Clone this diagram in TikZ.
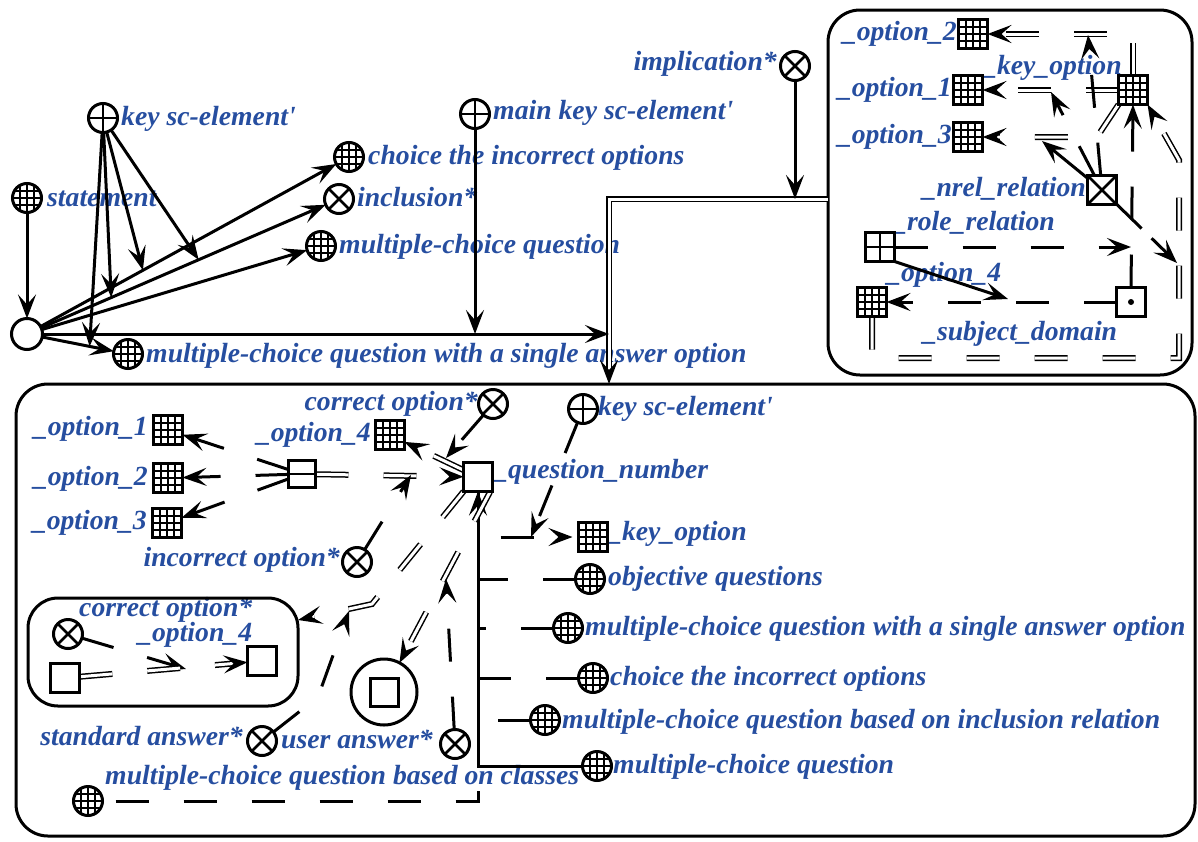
\documentclass[tikz,border=0pt]{standalone}
\usepackage{fontspec}
\setmainfont{Liberation Serif}
\usetikzlibrary{arrows.meta,calc}
\definecolor{lblblue}{RGB}{38,78,160}
\pgfdeclarelayer{bg}
\pgfdeclarelayer{txt}
\pgfdeclarelayer{edges}
\pgfsetlayers{bg,txt,edges,main}

\tikzset{
  lbl/.style={font=\fontsize{27.7pt}{30pt}\selectfont\bfseries\itshape, text=lblblue, inner sep=0pt},
  lblW/.style={lbl, anchor=mid west, yshift=-6pt},
  lblE/.style={lbl, anchor=mid east, yshift=-6pt},
  el/.style={draw, line width=3pt, inner sep=0pt, outer sep=0pt, fill=white},
  crc/.style={el, circle, minimum size=29pt},
  sqr/.style={el, rectangle, minimum size=29pt},
  fine/.style={line width=1.5pt},
  heavy/.style={line width=2.6pt},
  gridmarks/.style={path picture={
    \foreach \d in {-7.2,0,7.2}{
      \draw[fine] ([xshift=\d pt]path picture bounding box.north) -- ([xshift=\d pt]path picture bounding box.south);
      \draw[fine] ([yshift=\d pt]path picture bounding box.west) -- ([yshift=\d pt]path picture bounding box.east);}}},
  crossmarks/.style={path picture={
    \draw[heavy] (path picture bounding box.north west) -- (path picture bounding box.south east);
    \draw[heavy] (path picture bounding box.north east) -- (path picture bounding box.south west);}},
  plusmarks/.style={path picture={
    \draw[heavy] (path picture bounding box.north) -- (path picture bounding box.south);
    \draw[heavy] (path picture bounding box.west) -- (path picture bounding box.east);}},
  gridc/.style={crc, gridmarks},
  gridsq/.style={sqr, gridmarks},
  xc/.style={crc, crossmarks},
  plusc/.style={crc, plusmarks},
  xsq/.style={sqr, crossmarks},
  plussq/.style={sqr, plusmarks},
  tuplesq/.style={sqr, minimum size=27pt, path picture={
    \draw[heavy] (path picture bounding box.west) -- (path picture bounding box.east);}},
  dotsq/.style={sqr, path picture={\fill[black] (path picture bounding box.center) circle (3pt);}},
  framed/.style={el, circle, minimum size=66pt, path picture={
    \draw[line width=3pt] ($(path picture bounding box.center)+(-14,-14)$) rectangle ($(path picture bounding box.center)+(14,14)$);}},
  contour/.style={draw, line width=3pt, rounded corners=32pt, rectangle, inner sep=0pt, outer sep=0pt},
  ln/.style={line width=3pt},
  arr/.style={ln, -{Stealth[length=24pt,width=18pt,inset=10pt]}},
  dsh/.style={dash pattern=on 33pt off 35pt},
  dbl/.style={double, line width=1.5pt, double distance=3pt},
  tiponly/.style={arr, line cap=butt, dash pattern=on 0pt off 10000pt},
}

\begin{document}
\begin{tikzpicture}[x=1pt, y=-1pt]
\useasboundingbox (0,0) rectangle (1198,841);
\begin{pgfonlayer}{bg}
  \fill[white] (0,0) rectangle (1198,841);
\end{pgfonlayer}

% ---------- upper left: statement and question classes
\node[gridc] (stmt) at (27,198) {};
\node[plusc] (ksc1) at (103,118) {};
\node[el, circle, minimum size=31pt] (emp) at (27,334) {};
\node[gridc] (choice1) at (349,157) {};
\node[xc] (incl) at (339,199) {};
\node[gridc] (mcq1) at (321,246) {};
\node[gridc] (mcqs1) at (128,354) {};
\node[plusc] (mksc) at (475,114) {};
\node[xc] (impl) at (795,66) {};

% ---------- upper right frame
\node[gridsq] (opt2a) at (973,34) {};
\node[gridsq] (opt1a) at (968,90) {};
\node[gridsq] (opt3a) at (968,137) {};
\node[gridsq] (keyopt) at (1133,90) {};
\node[xsq] (nrel) at (1102,190) {};
\node[plussq] (role) at (880,247) {};
\node[gridsq] (opt4a) at (872,302) {};
\node[dotsq] (subj) at (1131,302) {};

% ---------- lower frame
\node[sqr] (qn) at (478,477) {};
\node[xc] (corr) at (493,404) {};
\node[plusc] (ksc2) at (583,409) {};
\node[gridsq] (opt4b) at (390,435) {};
\node[tuplesq] (tup) at (302,474) {};
\node[gridsq] (opt1b) at (168,430) {};
\node[gridsq] (opt2b) at (168,478) {};
\node[gridsq] (opt3b) at (167,523) {};
\node[xc] (incor) at (357,562) {};
\node[gridsq] (keyopt2) at (593,537) {};
\node[gridc] (objq) at (590,579) {};
\node[gridc] (mcqs2) at (568,628) {};
\node[gridc] (choice2) at (593,678) {};
\node[gridc] (mcqi) at (545,720) {};
\node[gridc] (mcq2) at (597,766) {};
\node[gridc] (mcqc) at (88,801) {};
\node[xc] (corr2) at (68,634) {};
\node[sqr] (lsq) at (65,678) {};
\node[sqr] (rsq) at (262,661) {};
\node[framed] (cs) at (384,692) {};
\node[xc] (stdans) at (262,741) {};
\node[xc] (usrans) at (455,744) {};

% ---------- labels
\begin{pgfonlayer}{txt}
\node[lblW] (t1) at (47,198) {statement};
\node[lblW] (t2) at (121,117) {key sc-element\textquotesingle};
\node[lblW] (t3) at (368,156) {choice the incorrect options};
\node[lblW] (t4) at (357,198) {inclusion*};
\node[lblW] (t5) at (339,245) {multiple-choice question};
\node[lblW] (t6) at (146,354) {multiple-choice question with a single answer option};
\node[lblW] (t7) at (493,111) {main key sc-element\textquotesingle};
\node[lblE] (t8) at (777,62) {implication*};

\node[lblE] (r1) at (957,32) {\_option\_2};
\node[lblE] (r2) at (952,88) {\_option\_1};
\node[lblE] (r3) at (952,135) {\_option\_3};
\node[lblW] (r4) at (983,66) {\_key\_option};
\node[lblE] (r5) at (1086,188) {\_nrel\_relation};
\node[lblW] (r6) at (893,222) {\_role\_relation};
\node[lblW] (r7) at (887,273) {\_option\_4};
\node[lblW] (r8) at (923,332) {\_subject\_domain};

\node[lblE] (b1) at (478,402) {correct option*};
\node[lblW] (b2) at (598,407) {key sc-element\textquotesingle};
\node[lblW] (b3) at (494,470) {\_question\_number};
\node[lblE] (b4) at (371,433) {\_option\_4};
\node[lblE] (b5) at (148,427) {\_option\_1};
\node[lblE] (b6) at (148,477) {\_option\_2};
\node[lblE] (b7) at (147,521) {\_option\_3};
\node[lblE] (b8) at (340,558) {incorrect option*};
\node[lblW] (b9) at (608,532) {\_key\_option};
\node[lblW] (b10) at (608,577) {objective questions};
\node[lblW] (b11) at (585,627) {multiple-choice question with a single answer option};
\node[lblW] (b12) at (610,677) {choice the incorrect options};
\node[lblW] (b13) at (562,720) {multiple-choice question based on inclusion relation};
\node[lblW] (b14) at (613,765) {multiple-choice question};
\node[lblW] (b15) at (105,776) {multiple-choice question based on classes};
\node[lblW] (b16) at (79,608) {correct option*};
\node[lblW] (b17) at (138,633) {\_option\_4};
\node[lblE] (b18) at (243,737) {standard answer*};
\node[lblW] (b19) at (281,740) {user answer*};
\end{pgfonlayer}

% ---------- frames and connectors
\begin{pgfonlayer}{edges}
\node[contour, minimum width=364pt, minimum height=365pt] (trc) at (1010,192.5) {};
\node[contour, minimum width=1179pt, minimum height=452pt] (btm) at (605.5,610) {};
\node[contour, minimum width=270pt, minimum height=108pt, rounded corners=30pt] (inc) at (163,652) {};

% implication arc from the upper frame into the lower frame
\coordinate (ip) at (795,199);
\coordinate (jn) at (609,334);
\coordinate (j0) at (trc.west |- ip);
\coordinate (jb) at (jn |- btm.north);
\draw[dbl, shorten >=14pt] (j0) -| (jb);
\draw[tiponly] (j0) -| (jb);
\draw[arr] (impl) -- (ip);

% upper left
\draw[arr] (stmt) -- (emp);
\draw[arr] (emp) -- (choice1);
\draw[arr] (emp) -- (incl);
\draw[arr] (emp) -- (mcq1);
\draw[arr] (emp) -- (mcqs1);
\draw[arr] (emp) -- (jn);
\coordinate (mk) at (mksc |- emp);
\draw[arr] (mksc) -- (mk);
\coordinate (k1) at ($(emp)!0.55!(incl)$);
\coordinate (k2) at ($(emp)!0.36!(choice1)$);
\coordinate (k3) at ($(emp)!0.27!(incl)$);
\coordinate (k4) at ($(emp)!0.62!(mcqs1)$);
\draw[arr] (ksc1) -- (k1);
\draw[arr] (ksc1) -- (k2);
\draw[arr] (ksc1) -- (k3);
\draw[arr] (ksc1) -- (k4);

% upper right frame
\draw[dbl, dsh, shorten >=14pt] (keyopt.north) |- (opt2a.east);
\draw[tiponly] (keyopt.north) |- (opt2a.east);
\draw[dbl, dsh, shorten >=14pt] (keyopt.west) -- (opt1a.east);
\draw[tiponly] (keyopt.west) -- (opt1a.east);
\coordinate (d3) at (1097,137);
\draw[dbl, dsh, shorten >=14pt] (keyopt.south west) -- (d3) -- (opt3a.east);
\draw[tiponly] (d3) -- (opt3a.east);
\coordinate (d4a) at (872,358);
\coordinate (d4b) at (1179,358);
\coordinate (d4c) at (1179,160);
\draw[dbl, dsh, shorten >=14pt] (opt4a.south) -- (d4a) -- (d4b) -- (d4c) -- (keyopt.south east);
\draw[tiponly] (d4c) -- (keyopt.south east);
\draw[arr, dsh] (subj.north) -- (keyopt.south);
\draw[arr, dsh] (subj.west) -- (opt4a.east);
\coordinate (e7) at (1131,247);
\draw[arr, dsh] (role.east) -- (e7);
\coordinate (e8) at (1008,299);
\draw[arr] (role.south east) -- (e8);
\coordinate (e9) at (1042,141);
\draw[arr] (nrel) -- (e9);
\coordinate (e10) at (1177,263);
\draw[arr, dash pattern=on 35pt off 14pt] (nrel) -- (e10);
\coordinate (e11) at (1051,92);
\draw[arr, dsh] (nrel) -- (e11);
\coordinate (e12) at (1088,35);
\draw[arr, dsh] (nrel) -- (e12);

% lower frame: tuple of options
\draw[arr, dsh] (tup) -- (opt1b);
\draw[arr, dsh] (tup) -- (opt2b);
\draw[arr, dsh] (tup) -- (opt3b);
\draw[dbl, dsh, shorten >=14pt] (tup) -- (qn);
\draw[tiponly] (tup) -- (qn);
\coordinate (c7) at (411,475);
\draw[arr, dsh] (incor) -- (c7);
\draw[dbl, dsh, shorten >=14pt] (qn) -- (opt4b);
\draw[tiponly] (qn) -- (opt4b);
\coordinate (c5) at (446,458);
\draw[arr, dsh] (corr) -- (c5);

% key option of the question
\draw[arr, dsh, shorten >=6pt] (qn.south) |- (keyopt2.west);
\coordinate (c8) at (531,537);
\draw[arr, dsh] (ksc2) -- (c8);

% class memberships of the question
\draw[arr] (mcq2) -| (qn.south);
\draw[ln, dsh] (objq) -- (objq -| qn.south);
\draw[ln, dsh] (mcqs2) -- (mcqs2 -| qn.south);
\draw[ln, dsh] (choice2) -- (choice2 -| qn.south);
\draw[ln, dsh] (mcqi) -- (mcqi -| qn.south);
\draw[ln, dsh, dash phase=55pt] (mcqc) -| (qn.south |- mcq2);

% answers
\coordinate (a13) at (372,604);
\coordinate (t13) at (298,620);
\draw[dbl, dsh, shorten >=14pt] (qn.south west) -- (a13) -- (t13);
\draw[tiponly] (a13) -- (t13);
\coordinate (s14) at (318,697);
\coordinate (s15) at (349,611);
\draw[arr, dsh] (stdans) -- (s14) -- (s15);
\coordinate (q15) at (490,492);
\draw[dbl, dsh, shorten >=14pt] (q15) -- (cs);
\draw[tiponly] (q15) -- (cs);
\coordinate (u16) at (446,579);
\draw[arr, dsh] (usrans) -- (u16);

% inner frame
\coordinate (c17) at (186,669);
\draw[arr, dsh] (corr2) -- (c17);
\draw[dbl, dsh, shorten >=14pt] (lsq) -- (rsq);
\draw[tiponly] (lsq) -- (rsq);
\end{pgfonlayer}
\end{tikzpicture}
\end{document}
